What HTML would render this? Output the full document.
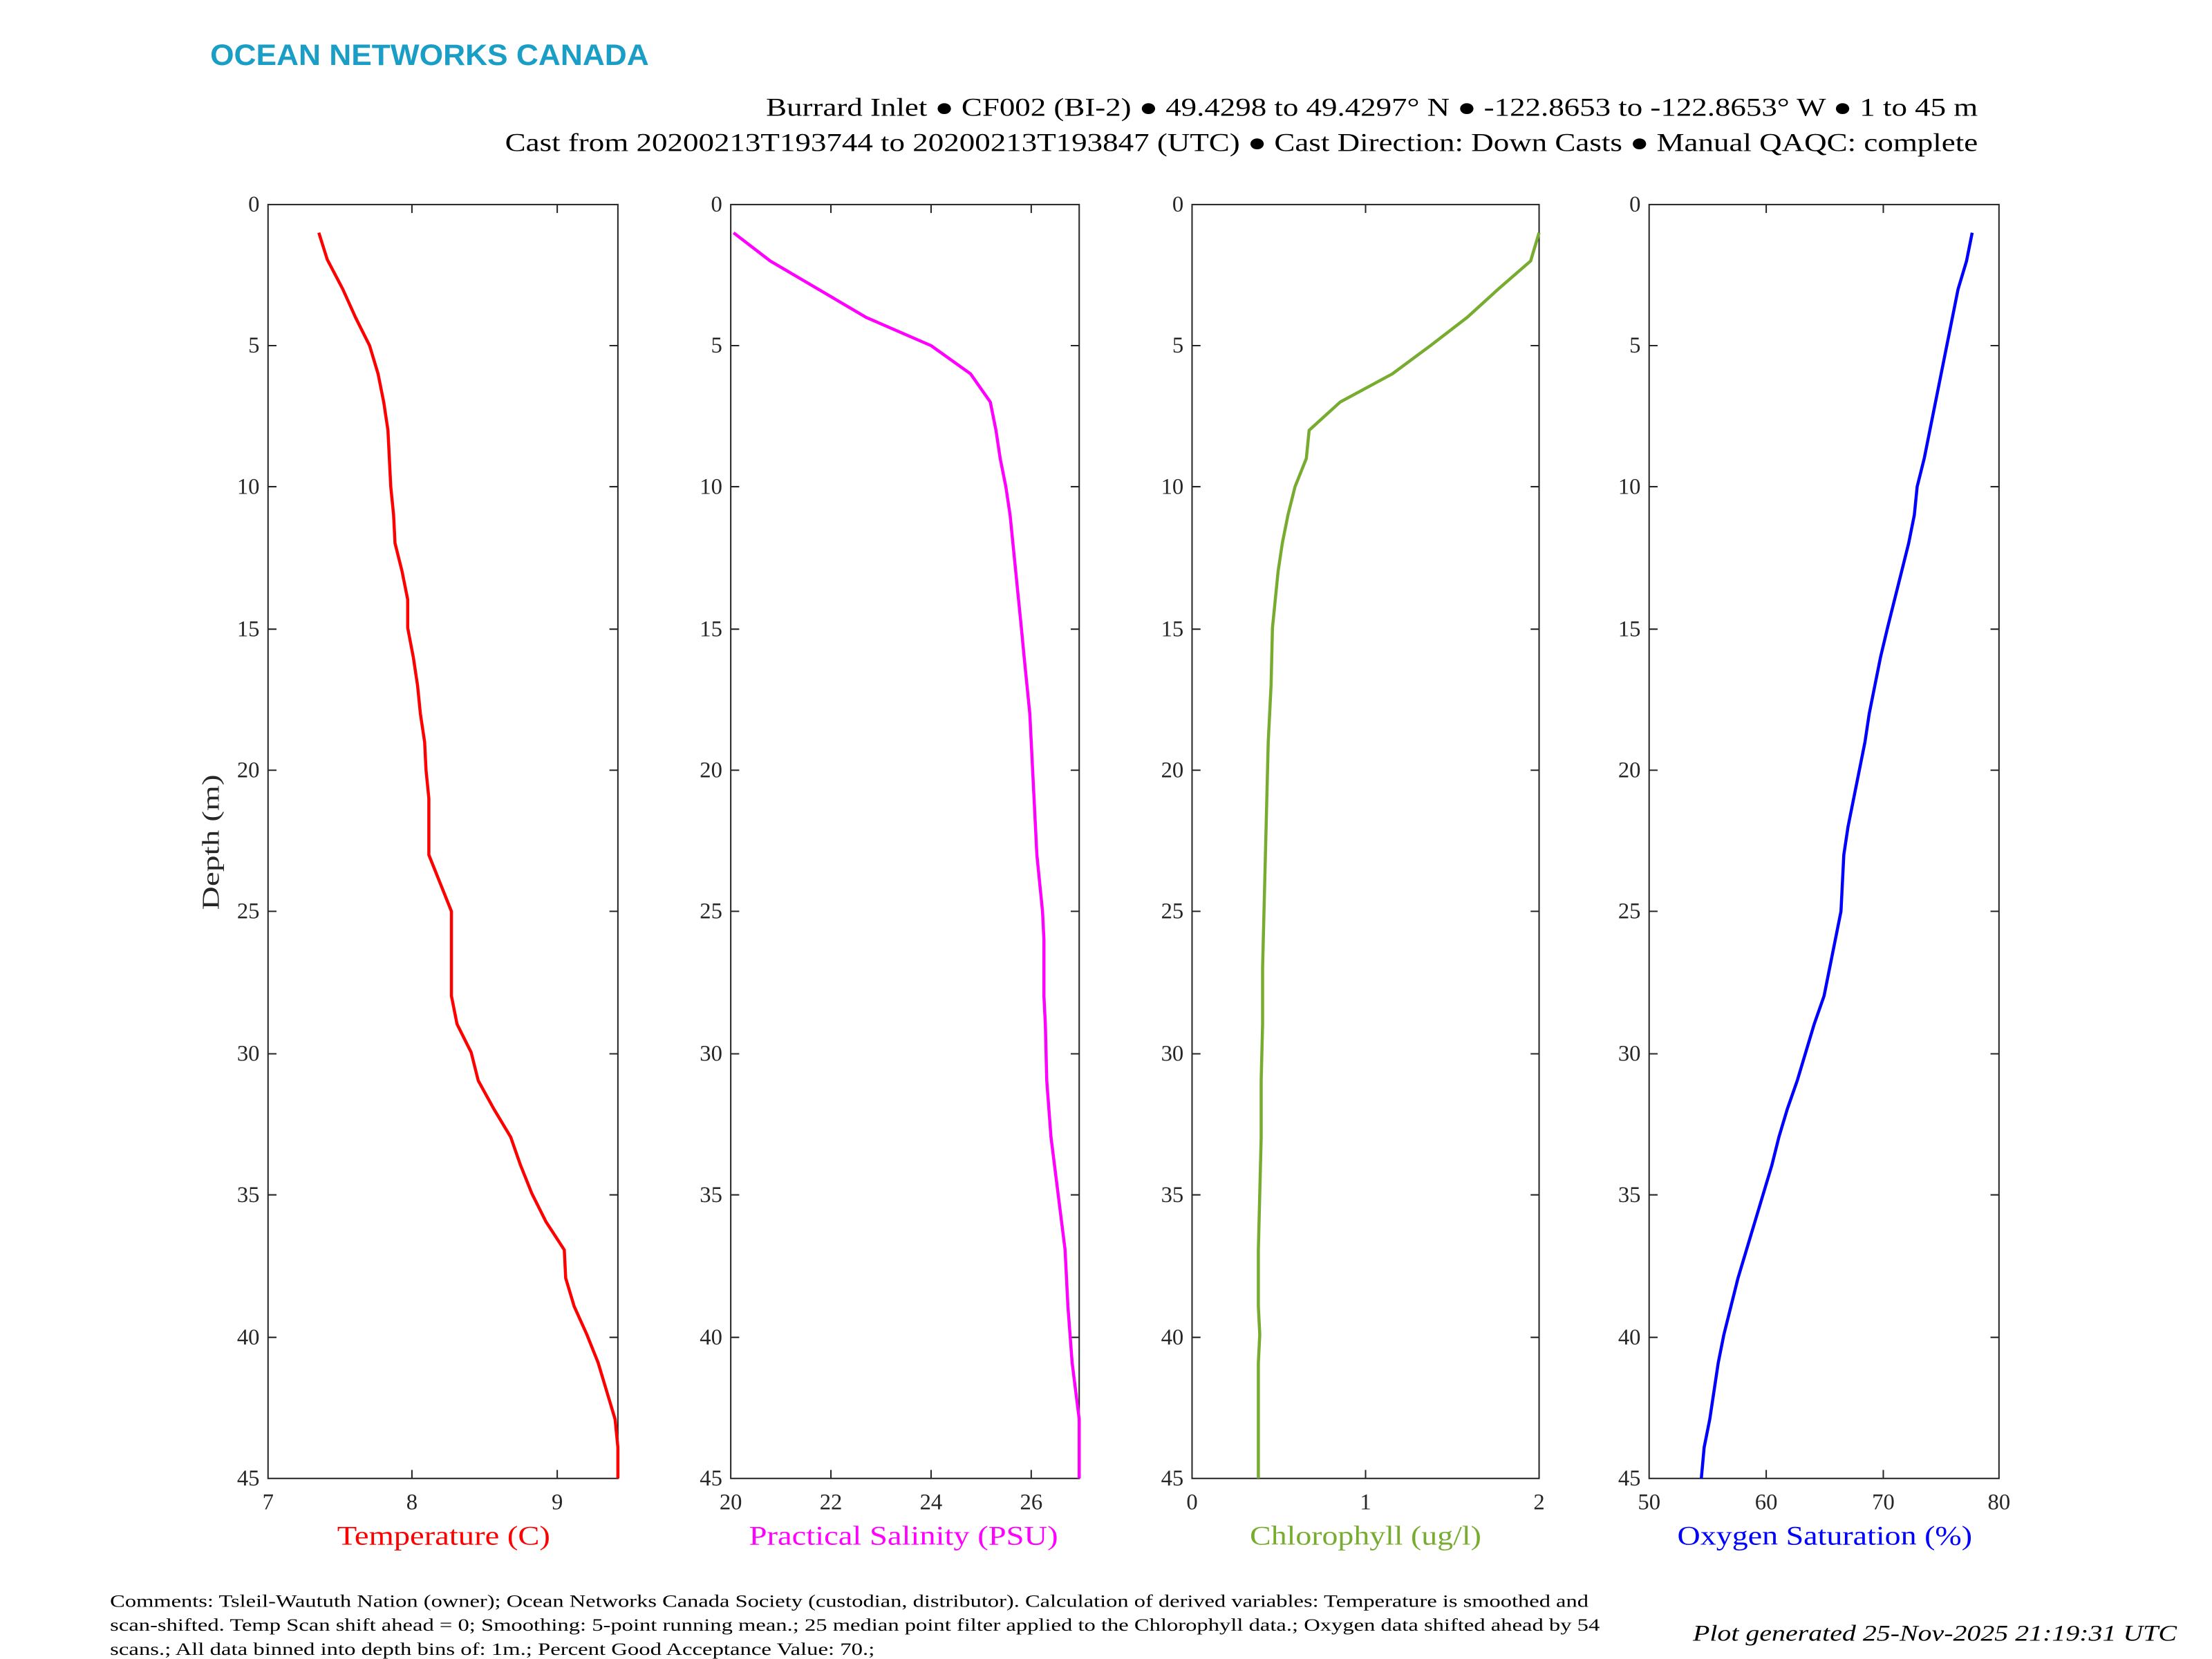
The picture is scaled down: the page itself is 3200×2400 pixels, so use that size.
<!DOCTYPE html>
<html><head><meta charset="utf-8"><style>html,body{margin:0;padding:0;background:#fff}svg{display:block}</style></head>
<body>
<svg width="3200" height="2400" viewBox="0 0 1568 1176" xmlns="http://www.w3.org/2000/svg" font-family="Liberation Serif, serif">
<rect width="1568" height="1176" fill="#fff"/>
<text x="149" y="46" font-family="Liberation Sans, sans-serif" font-weight="bold" font-size="21" fill="#1a9ec6" textLength="311" lengthAdjust="spacingAndGlyphs">OCEAN NETWORKS CANADA</text>
<text x="543" y="82" font-size="18" textLength="859" lengthAdjust="spacingAndGlyphs">Burrard Inlet ● CF002 (BI-2) ● 49.4298 to 49.4297° N ● -122.8653 to -122.8653° W ● 1 to 45 m</text>
<text x="358" y="107" font-size="18" textLength="1044" lengthAdjust="spacingAndGlyphs">Cast from 20200213T193744 to 20200213T193847 (UTC) ● Cast Direction: Down Casts ● Manual QAQC: complete</text>

<g stroke="#262626" stroke-width="1" fill="none">
<rect x="190" y="145" width="248" height="903"/>
<rect x="518" y="145" width="247" height="903"/>
<rect x="845" y="145" width="246" height="903"/>
<rect x="1169" y="145" width="248" height="903"/>
<path d="M190 245h6M190 345h6M190 446h6M190 546h6M190 646h6M190 747h6M190 847h6M190 948h6M438 245h-6M438 345h-6M438 446h-6M438 546h-6M438 646h-6M438 747h-6M438 847h-6M438 948h-6
M292 145v6M395 145v6M292 1048v-6M395 1048v-6"/>
<path d="M518 245h6M518 345h6M518 446h6M518 546h6M518 646h6M518 747h6M518 847h6M518 948h6M765 245h-6M765 345h-6M765 446h-6M765 546h-6M765 646h-6M765 747h-6M765 847h-6M765 948h-6
M589 145v6M660 145v6M731 145v6M589 1048v-6M660 1048v-6M731 1048v-6"/>
<path d="M845 245h6M845 345h6M845 446h6M845 546h6M845 646h6M845 747h6M845 847h6M845 948h6M1091 245h-6M1091 345h-6M1091 446h-6M1091 546h-6M1091 646h-6M1091 747h-6M1091 847h-6M1091 948h-6
M968 145v6M968 1048v-6"/>
<path d="M1169 245h6M1169 345h6M1169 446h6M1169 546h6M1169 646h6M1169 747h6M1169 847h6M1169 948h6M1417 245h-6M1417 345h-6M1417 446h-6M1417 546h-6M1417 646h-6M1417 747h-6M1417 847h-6M1417 948h-6
M1252 145v6M1335 145v6M1252 1048v-6M1335 1048v-6"/>
</g>

<g font-size="16" fill="#262626" text-anchor="end">
<g id="yl">
<text x="184" y="150">0</text><text x="184" y="250">5</text><text x="184" y="350">10</text><text x="184" y="451">15</text><text x="184" y="551">20</text><text x="184" y="651">25</text><text x="184" y="752">30</text><text x="184" y="852">35</text><text x="184" y="953">40</text><text x="184" y="1053">45</text>
</g>
<use href="#yl" x="328"/><use href="#yl" x="655"/><use href="#yl" x="979"/>
</g>
<g font-size="16" fill="#262626" text-anchor="middle">
<text x="190" y="1070">7</text><text x="292" y="1070">8</text><text x="395" y="1070">9</text>
<text x="518" y="1070">20</text><text x="589" y="1070">22</text><text x="660" y="1070">24</text><text x="731" y="1070">26</text>
<text x="845" y="1070">0</text><text x="968" y="1070">1</text><text x="1091" y="1070">2</text>
<text x="1169" y="1070">50</text><text x="1252" y="1070">60</text><text x="1335" y="1070">70</text><text x="1417" y="1070">80</text>
</g>
<text transform="translate(155 597) rotate(-90)" font-size="17" fill="#262626" text-anchor="middle" textLength="96" lengthAdjust="spacingAndGlyphs">Depth (m)</text>
<g font-size="19">
<text x="239" y="1095" fill="#ff0000" textLength="151" lengthAdjust="spacingAndGlyphs">Temperature (C)</text>
<text x="531" y="1095" fill="#ff00ff" textLength="219" lengthAdjust="spacingAndGlyphs">Practical Salinity (PSU)</text>
<text x="886" y="1095" fill="#77ac30" textLength="164" lengthAdjust="spacingAndGlyphs">Chlorophyll (ug/l)</text>
<text x="1189" y="1095" fill="#0000ff" textLength="209" lengthAdjust="spacingAndGlyphs">Oxygen Saturation (%)</text>
</g>

<g fill="none" stroke-width="2.2" stroke-linejoin="round">
<polyline stroke="#ff0000" points="226,165 232,184 243,205 252,225 262,245 268,265 272,285 275,305 276,325 277,345 279,365 280,385 285,405 289,425 289,445 293,466 296,486 298,506 301,526 302,546 304,566 304,586 304,606 312,626 320,646 320,666 320,686 320,706 324,726 334,746 339,766 350,786 362,806 369,826 377,846 387,866 400,886 401,906 407,926 416,946 424,966 430,986 436,1006 438,1026 438,1048"/>
<polyline stroke="#ff00ff" points="520,165 546,185 580,205 614,225 660,245 688,265 702,285 706,305 709,325 713,345 716,365 718,385 720,405 722,425 724,445 726,466 728,486 730,506 731,526 732,546 733,566 734,586 735,606 737,626 739,646 740,666 740,706 741,726 742,766 745,806 750,846 755,886 757,926 760,966 765,1006 765,1048"/>
<polyline stroke="#77ac30" points="1091,165 1085,185 1062,205 1040,225 1014,245 987,265 950,285 928,305 926,325 918,345 913,365 909,385 906,405 904,425 902,445 901,486 899,526 898,566 897,606 896,646 895,686 895,726 894,766 894,806 893,846 892,886 892,926 893,946 892,966 892,1048"/>
<polyline stroke="#0000ff" points="1398,165 1394,185 1388,205 1384,225 1380,245 1376,265 1372,285 1368,305 1364,325 1359,345 1357,365 1353,385 1348,405 1343,425 1338,445 1333,466 1329,486 1325,506 1322,526 1318,546 1314,566 1310,586 1307,606 1306,626 1305,646 1301,666 1297,686 1293,706 1286,726 1280,746 1274,766 1267,786 1261,806 1256,826 1250,846 1244,866 1238,886 1232,906 1227,926 1222,946 1218,966 1215,986 1212,1006 1208,1026 1206,1048"/>
</g>

<g font-size="12.5" fill="#000">
<text x="78" y="1139" textLength="1048" lengthAdjust="spacingAndGlyphs">Comments: Tsleil-Waututh Nation (owner); Ocean Networks Canada Society (custodian, distributor). Calculation of derived variables: Temperature is smoothed and</text>
<text x="78" y="1156" textLength="1056" lengthAdjust="spacingAndGlyphs">scan-shifted. Temp Scan shift ahead = 0; Smoothing: 5-point running mean.; 25 median point filter applied to the Chlorophyll data.; Oxygen data shifted ahead by 54</text>
<text x="78" y="1173" textLength="542" lengthAdjust="spacingAndGlyphs">scans.; All data binned into depth bins of: 1m.; Percent Good Acceptance Value: 70.;</text>
</g>
<text x="1200" y="1163" font-size="16" font-style="italic" textLength="343" lengthAdjust="spacingAndGlyphs">Plot generated 25-Nov-2025 21:19:31 UTC</text>
</svg>
</body></html>
